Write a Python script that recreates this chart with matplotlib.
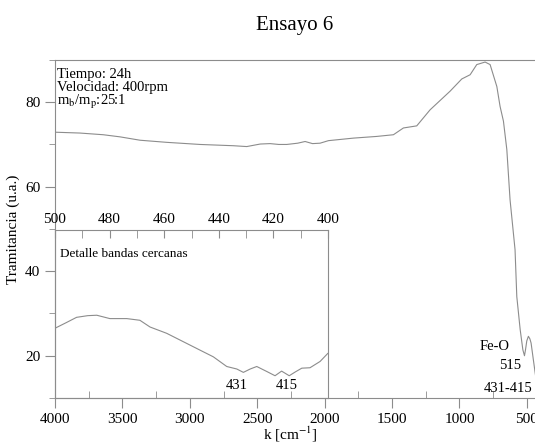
import numpy as np
import matplotlib
matplotlib.use('Agg')
import matplotlib.pyplot as plt
from matplotlib.ticker import MultipleLocator

plt.rcParams['font.family'] = ['Liberation Serif', 'DejaVu Serif']
plt.rcParams['mathtext.fontset'] = 'stix'

# main spectrum (k in cm-1, transmittance in u.a.)
k_main = [4000, 3815, 3642, 3518, 3369, 3171, 2924, 2677, 2578, 2478, 2405, 2340, 2281,
          2200, 2145, 2090, 2034, 1972, 1787, 1614, 1490, 1416, 1317, 1218, 1070, 983,
          921, 872, 810, 773, 723, 699, 674, 649, 625, 588, 575, 550, 530, 518, 510,
          501, 489, 478, 469, 452, 439, 430]
t_main = [72.9, 72.7, 72.3, 71.8, 71.0, 70.5, 70.0, 69.7, 69.5, 70.1, 70.2, 70.0, 70.0,
          70.3, 70.7, 70.2, 70.3, 70.9, 71.5, 71.9, 72.3, 73.9, 74.4, 78.2, 82.6, 85.5,
          86.5, 88.9, 89.5, 88.9, 83.7, 79.0, 75.5, 68.8, 56.9, 45.1, 34.0, 26.2, 21.4,
          20.0, 21.5, 23.5, 24.6, 24.0, 23.0, 19.0, 16.0, 14.0]

# detail of the 500-400 band region
k_det = [500, 496, 492.1, 488, 484.7, 479.9, 473.7, 468.9, 465.2, 459.1, 453.0, 446.9,
         442.0, 437.1, 433.4, 431.0, 428.5, 426.1, 422.4, 419.4, 417.0, 414.2, 412,
         409.6, 406.6, 402.9, 400.1]
t_det = [26.6, 27.9, 29.2, 29.6, 29.7, 28.9, 28.9, 28.5, 26.9, 25.4, 23.4, 21.4,
         19.8, 17.5, 16.9, 16.1, 16.9, 17.5, 16.3, 15.3, 16.4, 15.3, 16.2,
         17.1, 17.2, 18.7, 20.6]

gray = '#8c8c8c'

fig = plt.figure(figsize=(5.35, 4.44), dpi=100)
ax = fig.add_axes([0.1028, 0.1036, 0.8972, 0.7614])
ax.plot(k_main, t_main, color=gray, lw=0.8)
ax.set_xlim(4000, 440)
ax.set_ylim(10, 90)
ax.xaxis.set_major_locator(MultipleLocator(500))
ax.xaxis.set_minor_locator(MultipleLocator(250))
ax.yaxis.set_major_locator(MultipleLocator(20))
ax.yaxis.set_minor_locator(MultipleLocator(10))
ax.tick_params(which='major', direction='out', length=7, color=gray, labelsize=11)
ax.tick_params(which='minor', direction='out', length=4, color=gray)
ax.tick_params(axis='x', which='minor', direction='in', length=5)
ax.spines['right'].set_visible(False)
for s in ['left', 'bottom', 'top']:
    ax.spines[s].set_color(gray)
    ax.spines[s].set_linewidth(0.8)
ax.set_xlabel(r'k [cm$^{-1}$]', fontsize=11, labelpad=2)
ax.set_ylabel('Tramitancia (u.a.)', fontsize=11)
ax.xaxis.set_label_coords(0.49, -0.08)

ax.text(0.004, 0.975, 'Tiempo: 24h\nVelocidad: 400rpm\nm$_\\mathrm{b}$/m$_\\mathrm{p}$:25:1',
        transform=ax.transAxes, ha='left', va='top', fontsize=10.5, linespacing=0.95)
ax.text(625, 22.1, 'Fe-O', ha='right', va='center', fontsize=10.5)
ax.text(625, 17.6, '515', ha='center', va='center', fontsize=10.5)
ax.text(461, 12.2, '431-415', ha='right', va='center', fontsize=10.5)

fig.suptitle('Ensayo 6', fontsize=15, x=0.55, y=0.965)

# inset with band detail
ins = fig.add_axes([0.1028, 0.1036, 0.5103, 0.3785])
ins.set_facecolor('none')
ins.plot(k_det, t_det, color=gray, lw=0.8)
ins.set_xlim(500, 400)
ins.set_ylim(10, 50)
ins.xaxis.set_major_locator(MultipleLocator(20))
ins.xaxis.set_minor_locator(MultipleLocator(10))
ins.xaxis.tick_top()
ins.set_yticks([])
ins.tick_params(axis='x', which='both', direction='in', length=6, color=gray,
                labelsize=11, pad=3)
for s in ins.spines.values():
    s.set_color(gray)
    s.set_linewidth(0.8)
ins.text(0.02, 0.855, 'Detalle bandas cercanas', transform=ins.transAxes,
         fontsize=9.5, ha='left', va='center')
ins.text(433.3, 12.9, '431', ha='center', va='center', fontsize=10.5)
ins.text(415, 12.9, '415', ha='center', va='center', fontsize=10.5)

fig.savefig('out.png', dpi=100)
